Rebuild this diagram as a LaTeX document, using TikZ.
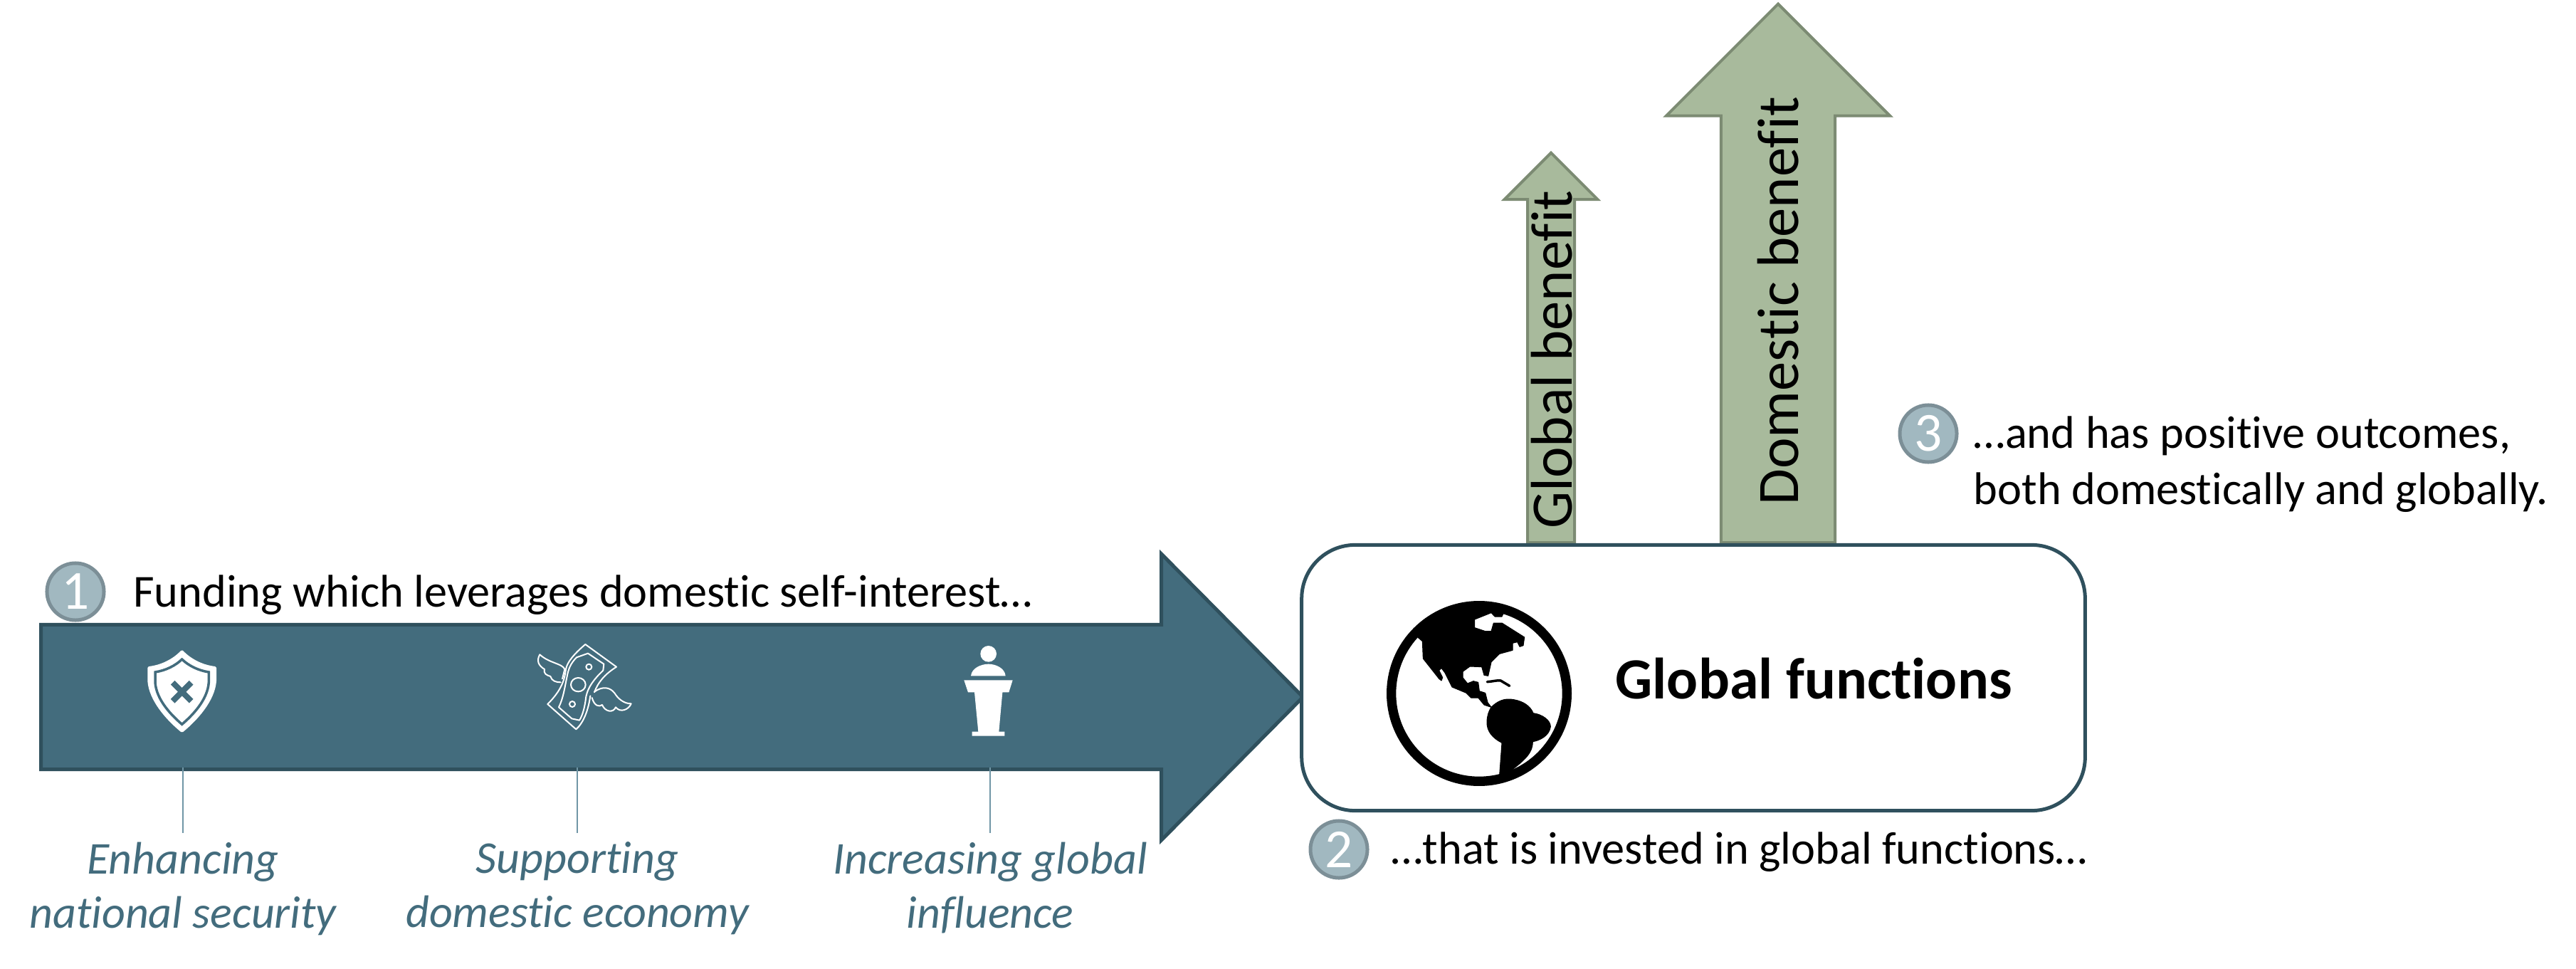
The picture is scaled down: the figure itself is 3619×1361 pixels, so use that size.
\documentclass[tikz,border=0pt]{standalone}
\usepackage{fontspec}
\setmainfont{Carlito}[Ligatures=NoCommon]
\usetikzlibrary{positioning, shapes.arrows}

\definecolor{tealfill}{HTML}{436C7D}
\definecolor{tealline}{HTML}{2F505D}
\definecolor{leadcol}{HTML}{7096A6}
\definecolor{numfill}{HTML}{A1B8C0}
\definecolor{numline}{HTML}{7C8F97}
\definecolor{greenfill}{HTML}{A8BA9C}
\definecolor{greenline}{HTML}{7C8B73}

\begin{document}
\begin{tikzpicture}[
    x=0.01cm, y=-0.01cm,
    fundarrow/.style={
        single arrow,
        draw=tealline,
        fill=tealfill,
        line width=0.05cm,
        inner xsep=0pt,
        inner ysep=0.99cm,
        minimum height=17.72cm,
        minimum width=3.98cm,
        single arrow head extend=0.995cm,
        single arrow tip angle=90.6,
        anchor=tail
    },
    benefitarrow/.style={
        single arrow,
        draw=greenline,
        fill=greenfill,
        line width=0.04cm,
        inner xsep=0pt,
        rotate=90,
        anchor=tail
    },
    funcbox/.style={
        draw=tealline,
        fill=white,
        line width=0.05cm,
        rounded corners=0.75cm,
        minimum width=11.0cm,
        minimum height=3.73cm
    },
    stepnum/.style={
        circle,
        draw=numline,
        fill=numfill,
        line width=0.05cm,
        minimum size=0.8cm,
        inner sep=0pt,
        text=white,
        font=\fontsize{22}{22}\selectfont
    },
    steptext/.style={
        align=left,
        inner sep=0pt,
        font=\fontsize{18.3}{22.4}\selectfont
    },
    goallabel/.style={
        align=center,
        inner xsep=0pt,
        inner ysep=0.12cm,
        anchor=north,
        text=tealfill,
        font=\fontsize{18.2}{21.6}\selectfont\itshape
    },
    leader/.style={draw=leadcol, line width=0.012cm},
    iconline/.style={draw=white, line width=0.02cm, line join=round, line cap=round},
    landmass/.style={fill=black, draw=black, line width=0.01cm, line join=round}
]
\useasboundingbox (0,0) rectangle (3619,1361);

% Arrows
\node[fundarrow] (fund) at (55,979) {};
\node[benefitarrow, inner ysep=0.31cm, minimum height=5.47cm, minimum width=1.27cm,
      single arrow head extend=0.325cm] (globalarrow) at (2179,764) {};
\node[benefitarrow, inner ysep=0.78cm, minimum height=7.56cm, minimum width=3.1cm,
      single arrow head extend=0.77cm] (domesticarrow) at (2498,764) {};

% Arrow labels
\node[rotate=90, inner sep=0pt, font=\fontsize{23.5}{24}\selectfont] (globaltext) at (2180,505) {Global benefit};
\node[rotate=90, inner sep=0pt, font=\fontsize{23.5}{24}\selectfont] (domestictext) at (2498,423) {Domestic benefit};

% Box
\node[funcbox] (func) at (2379,952) {};
\node[inner sep=0pt, font=\fontsize{23.3}{24}\selectfont\bfseries] (functext) at (2548,953) {Global functions};

% Steps
\node[stepnum] (numa) at (106,831) {1};
\node[steptext, right=0.38cm of numa, yshift=-0.05cm] (stepa) {Funding which leverages domestic self-interest…};
\node[stepnum] (numb) at (1881,1193) {2};
\node[steptext, right=0.3cm of numb, yshift=-0.04cm] (stepb) {…that is invested in global functions…};
\node[stepnum] (numc) at (2709,609) {3};
\node[steptext, anchor=north west] (stepc) at (2772,584) {…and has positive outcomes,\\both domestically and globally.};

% Goals
\coordinate (leada) at (257,1078);
\coordinate (leadb) at (811,1078);
\coordinate (leadc) at (1391,1078);
\node[goallabel] (goala) at (257,1170) {Enhancing\\national security};
\node[goallabel] (goalb) at (811,1170) {Supporting\\domestic economy};
\node[goallabel] (goalc) at (1391,1170) {Increasing global\\influence};
\draw[leader] (leada) -- (goala.north);
\draw[leader] (leadb) -- (goalb.north);
\draw[leader] (leadc) -- (goalc.north);

% Shield
\begin{scope}[shift={(190,890)}, scale=1/3]
    \filldraw[white, line width=0.04cm, line join=round] (197,76) .. controls (235,115) and (285,138) .. (336,144) -- (336,200)
        .. controls (330,280) and (258,360) .. (197,410) .. controls (136,360) and (64,280) .. (58,200) -- (58,144)
        .. controls (109,138) and (159,115) .. cycle;
    \draw[tealfill, line width=0.035cm] (197,108) .. controls (225,135) and (265,155) .. (310,162) -- (310,205)
        .. controls (305,280) and (240,345) .. (197,382) .. controls (154,345) and (89,280) .. (84,205) -- (84,162)
        .. controls (129,155) and (169,135) .. cycle;
    \draw[tealfill, line width=0.08cm] (158,206) -- (236,284) (236,206) -- (158,284);
\end{scope}

% Money
\begin{scope}[shift={(740,890)}, scale=1/3]
    \draw[iconline] (247,45) -- (378,140) .. controls (330,170) and (300,205) .. (285,247);
    \draw[iconline] (247,45) .. controls (200,85) and (170,120) .. (165,150) .. controls (160,190) and (150,235) .. (88,297) -- (208,403)
        .. controls (240,375) and (260,320) .. (268,262);
    \draw[iconline] (258,83) -- (325,128) -- (322,155) .. controls (285,190) and (258,225) .. (250,265)
        .. controls (245,310) and (235,345) .. (222,365) -- (190,358) -- (135,310) .. controls (155,270) and (160,225) .. (170,180)
        .. controls (175,150) and (185,125) .. (210,100) -- cycle;
    \draw[iconline] (217,215) ellipse [x radius=31, y radius=29];
    \draw[iconline] (262,140) circle (12);
    \draw[iconline] (192,297) circle (12);
    \draw[iconline] (150,190) -- (160,150) .. controls (150,125) and (95,125) .. (55,88) .. controls (40,115) and (50,135) .. (75,150)
        .. controls (70,170) and (85,175) .. (100,180) .. controls (105,200) and (125,205) .. (143,205);
    \draw[iconline] (285,245) .. controls (320,220) and (350,225) .. (370,250) .. controls (385,275) and (410,295) .. (440,295)
        .. controls (430,320) and (395,335) .. (375,310) .. controls (365,335) and (330,330) .. (318,300)
        .. controls (305,310) and (285,305) .. (275,270);
\end{scope}

% Podium
\begin{scope}[shift={(1340,890)}, scale=1/3]
    \fill[white] (146,85) circle (34);
    \fill[white] (72,178) .. controls (75,145) and (115,128) .. (146,128) .. controls (177,128) and (215,145) .. (218,178) -- cycle;
    \fill[white] (43,196) -- (248,196) -- (232,247) -- (205,247) -- (190,413) -- (214,413) -- (214,431) -- (77,431) -- (77,413)
        -- (103,413) -- (87,247) -- (60,247) -- cycle;
\end{scope}

% Globe
\begin{scope}[shift={(1930,830)}, scale=1/3]
    \draw[black, line width=0.133cm] (444,432) circle (370);
    \path[landmass] (185,195) -- (205,212) -- (208,285) -- (275,370) -- (285,378) -- (290,365) -- (275,335) -- (285,325)
        -- (300,345) -- (330,405) -- (390,430) -- (410,450) -- (440,450) -- (465,480) -- (495,490) -- (480,470) -- (470,430)
        -- (445,422) -- (440,385) -- (420,380) -- (395,390) -- (375,365) -- (375,340) -- (405,318) -- (455,320) -- (465,355)
        -- (482,358) -- (495,300) -- (530,265) -- (585,250) -- (585,220) -- (605,215) -- (615,235) -- (630,230) -- (635,195)
        -- (540,135) -- (505,135) -- (495,170) -- (470,170) -- (425,155) -- (425,120) -- (495,92) -- (510,108) -- (540,108)
        -- (548,90) -- (444,70) -- (300,100) -- (230,140) -- cycle;
    \draw[black, line width=0.035cm, line cap=round] (478,383) .. controls (500,382) and (520,375) .. (535,378) -- (572,400);
    \path[landmass] (495,490) .. controls (520,465) and (550,450) .. (590,458) .. controls (630,465) and (660,485) .. (672,515)
        .. controls (710,520) and (745,545) .. (745,572) .. controls (740,610) and (700,630) .. (670,635)
        .. controls (670,680) and (640,710) .. (578,757) -- (530,775) -- (540,640) .. controls (500,620) and (475,590) .. (477,550)
        .. controls (478,525) and (485,505) .. cycle;
\end{scope}

\end{tikzpicture}
\end{document}
